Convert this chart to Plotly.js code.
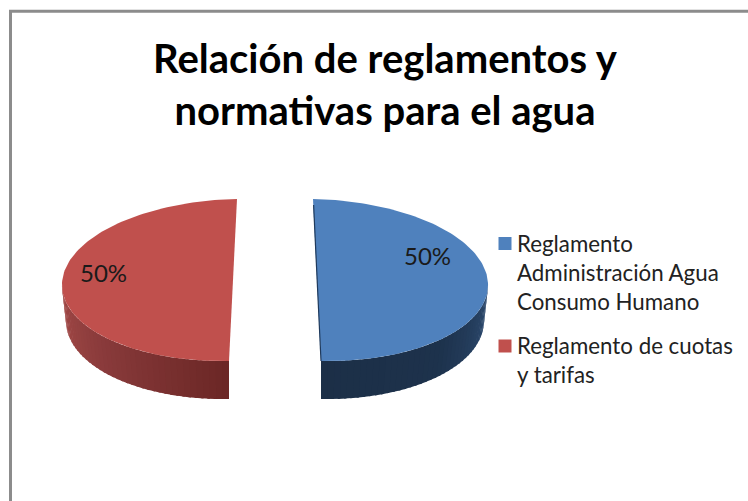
<!DOCTYPE html>
<html>
<head>
<meta charset="utf-8">
<script src="https://cdn.plot.ly/plotly-3.0.1.min.js"></script>
<style>html,body{margin:0;padding:0;background:#fff}#chart{width:748px;height:501px}</style>
</head>
<body>
<div id="chart"></div>
<script>
const categories = ["Reglamento<br>Administración Agua<br>Consumo Humano", "Reglamento de cuotas<br>y tarifas"];
const values = [50, 50];
const topColors = ["#4f81bd", "#c0504d"];
const sideRamps = [["#2e4c72", "#1d324c", "#1c2f47"], ["#6b2725", "#87393a", "#a54b48"]];
const titleLines = ["Relación de reglamentos y", "normativas para el agua"];

const FONT = "Lato, Carlito, Calibri, sans-serif";
const geom = [
  {cx: 317, lean: 4, cxLow: 321, rx: 171, rxLow: 163},
  {cx: 233, lean: -4, cxLow: 229, rx: 171, rxLow: 163}
];
const cy = 280, ry = 81, bow = 3, depth = 38;
const total = values.reduce((a, b) => a + b, 0);
const rad = d => d * Math.PI / 180;

function topPt(g, a) {
  const t = rad(a - 90);
  return [g.cx + g.lean * Math.sin(t) + g.rx * Math.cos(t), cy + ry * Math.sin(t) + bow * Math.abs(Math.cos(t))];
}
function lowPt(g, a) {
  const t = rad(a - 90);
  return [g.cxLow + g.rxLow * Math.cos(t), cy + depth + ry * Math.sin(t) + bow * Math.abs(Math.cos(t))];
}
function hex(c) { return [1, 3, 5].map(i => parseInt(c.slice(i, i + 2), 16)); }
function ramp(cols, f) {
  const p = Math.min(0.9999, Math.max(0, f)) * (cols.length - 1), i = Math.floor(p), k = p - i;
  const A = hex(cols[i]), B = hex(cols[i + 1]);
  return "rgb(" + A.map((v, j) => Math.round(v + (B[j] - v) * k)).join(",") + ")";
}

const traces = [];
let start = 0;
values.forEach((v, i) => {
  const sweep = v / total * 360, a0 = start, a1 = start + sweep, g = geom[i];
  start = a1;
  // visible wall: the part of the arc facing the viewer
  const w0 = Math.max(a0, 90), w1 = Math.min(a1, 270), n = 40;
  for (let k = 0; k < n; k++) {
    const s0 = w0 + (w1 - w0) * k / n, s1 = w0 + (w1 - w0) * Math.min(n, k + 1.4) / n;
    const xs = [], ys = [];
    for (let j = 0; j <= 3; j++) { const p = topPt(g, s0 + (s1 - s0) * j / 3); xs.push(p[0]); ys.push(p[1]); }
    for (let j = 3; j >= 0; j--) { const p = lowPt(g, s0 + (s1 - s0) * j / 3); xs.push(p[0]); ys.push(p[1]); }
    traces.push({type: "scatter", mode: "lines", x: xs, y: ys, fill: "toself", line: {width: 0},
      fillcolor: ramp(sideRamps[i], (k + .5) / n), hoverinfo: "skip", showlegend: false});
  }
  // top face
  const fx = [], fy = [];
  for (let j = 0; j <= 120; j++) { const p = topPt(g, a0 + sweep * j / 120); fx.push(p[0]); fy.push(p[1]); }
  traces.push({type: "scatter", mode: "lines", x: fx, y: fy, fill: "toself", line: {width: 0},
    fillcolor: topColors[i], name: categories[i].replace(/<br>/g, " "), hoverinfo: "name", showlegend: false});
});
// inner wall sliver of the first slice
const e0 = topPt(geom[0], 0), e1 = topPt(geom[0], 180);
traces.push({type: "scatter", mode: "lines", x: [e0[0] + 0.6, e1[0]], y: [e0[1] + 6, e1[1]], line: {width: 1.2, color: "#1f3a5c"}, hoverinfo: "skip", showlegend: false});

// legend swatches
const swatchX = 505, swatchY = [243.5, 346];
categories.forEach((c, i) => {
  traces.push({type: "scatter", mode: "markers", x: [swatchX], y: [swatchY[i]],
    marker: {symbol: "square", size: 13, color: topColors[i]}, hoverinfo: "skip", showlegend: false});
});

const legendTextY = [229, 331];
const labelPos = [[427, 255], [103, 272]];
const annotations = [];
categories.forEach((c, i) => {
  annotations.push({xref: "x", yref: "y", x: 516, y: legendTextY[i], xanchor: "left", yanchor: "top", align: "left",
    showarrow: false, borderpad: 0, text: c,
    font: {family: FONT, size: 22.3, color: "#222"}});
  annotations.push({xref: "x", yref: "y", x: labelPos[i][0], y: labelPos[i][1], xanchor: "center", yanchor: "middle",
    showarrow: false, borderpad: 0,
    text: Math.round(values[i] / total * 100) + "%", font: {family: FONT, size: 24, color: "#1a1a1a"}});
});

const layout = {
  width: 748, height: 501, autosize: false,
  margin: {l: 0, r: 0, t: 0, b: 0},
  paper_bgcolor: "#fff", plot_bgcolor: "#fff", showlegend: false,
  title: {text: titleLines.map(s => "<b>" + s + "</b>").join("<br>"),
    font: {family: FONT, size: 40, color: "#000"}, x: 385 / 748, xanchor: "center", y: 0.855, yanchor: "middle"},
  xaxis: {range: [0, 748], visible: false, fixedrange: true},
  yaxis: {range: [501, 0], visible: false, fixedrange: true},
  shapes: [{type: "path", path: "M 10.5 501 L 10.5 11.2 L 748 11.2", line: {color: "#8c8c8c", width: 3}}],
  annotations: annotations
};
Plotly.newPlot("chart", traces, layout, {displayModeBar: false, responsive: false});
</script>
</body>
</html>
